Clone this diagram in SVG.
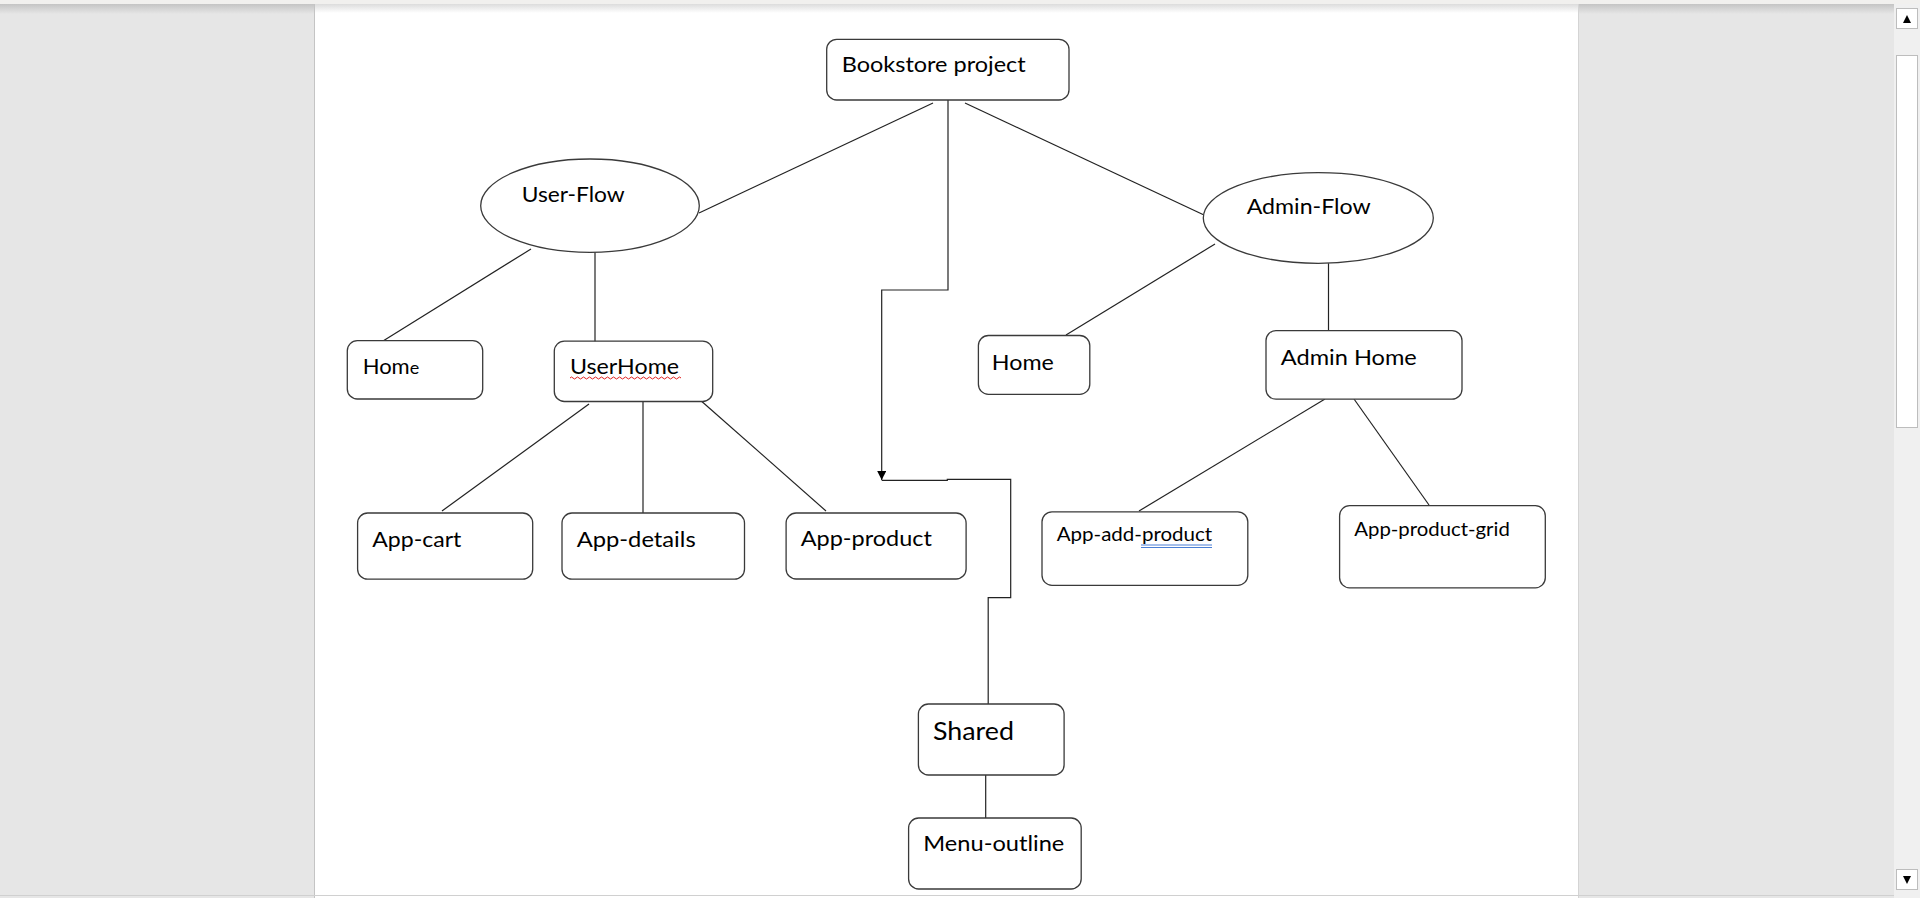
<svg xmlns="http://www.w3.org/2000/svg" width="1920" height="898" viewBox="0 0 1920 898">
<defs>
<linearGradient id="topShadeGray" x1="0" y1="0" x2="0" y2="1"><stop offset="0" stop-color="#c4c4c4"/><stop offset="1" stop-color="#e6e6e6"/></linearGradient>
<linearGradient id="topShadeWhite" x1="0" y1="0" x2="0" y2="1"><stop offset="0" stop-color="#dcdcdc"/><stop offset="1" stop-color="#ffffff"/></linearGradient>
<marker id="arrow" viewBox="0 0 10 10" refX="10" refY="5" markerWidth="9" markerHeight="9" markerUnits="userSpaceOnUse" orient="auto">
<path d="M0,0 L10,5 L0,10 Z" fill="#000"/>
</marker>
<style>
.box{fill:#fff;stroke:#3a3a3a;stroke-width:1.3}
.ell{fill:#fff;stroke:#3a3a3a;stroke-width:1.3}
.lbl{font-family:Lato,"Liberation Sans",sans-serif;font-size:22px;fill:#000}
.sm{font-size:19px}
.lg{font-size:25px}
.con{fill:none;stroke:#222;stroke-width:1.2}
</style>
</defs>
<!-- window background -->
<rect x="0" y="0" width="1920" height="898" fill="#e6e6e6"/>
<rect x="314" y="4" width="1264" height="894" fill="#fff"/>
<rect x="0" y="4" width="314" height="10" fill="url(#topShadeGray)"/>
<rect x="1578" y="4" width="316" height="10" fill="url(#topShadeGray)"/>
<rect x="315" y="4" width="1263" height="9" fill="url(#topShadeWhite)"/>
<rect x="0" y="0" width="1920" height="4" fill="#f1f0ee"/>
<line x1="314.5" y1="4" x2="314.5" y2="898" stroke="#c4c4c4" stroke-width="1"/>
<line x1="1578.5" y1="4" x2="1578.5" y2="898" stroke="#d4d4d4" stroke-width="1"/>
<line x1="0" y1="895.5" x2="1894" y2="895.5" stroke="#d0d0d0" stroke-width="1"/>
<!-- scrollbar -->
<rect x="1894" y="4" width="26" height="894" fill="#f0f0f0"/>
<rect x="1896.5" y="8.5" width="21" height="20" fill="#fff" stroke="#bdbdbd"/>
<path d="M1903,23 L1911,23 L1907,15 Z" fill="#000"/>
<rect x="1896.5" y="55.5" width="21" height="372" fill="#fff" stroke="#bdbdbd"/>
<rect x="1896.5" y="869.5" width="21" height="20" fill="#fff" stroke="#bdbdbd"/>
<path d="M1903,876 L1911,876 L1907,884 Z" fill="#000"/>

<g id="connectors">
<line class="con" x1="933" y1="103" x2="699" y2="213"/>
<line class="con" x1="965" y1="103" x2="1204" y2="215"/>
<line class="con" x1="531" y1="249" x2="383" y2="341"/>
<line class="con" x1="595" y1="252" x2="595" y2="342"/>
<line class="con" x1="1215" y1="244" x2="1066" y2="335"/>
<line class="con" x1="1328.5" y1="263" x2="1328.5" y2="331"/>
<line class="con" x1="589" y1="404" x2="442" y2="511"/>
<line class="con" x1="643" y1="402" x2="643" y2="513"/>
<line class="con" x1="699" y1="399" x2="826" y2="511"/>
<line class="con" x1="1325" y1="399" x2="1139" y2="511"/>
<line class="con" x1="1354" y1="399" x2="1429" y2="505"/>
<path class="con" d="M948,100 V290 H881.7 V480" marker-end="url(#arrow)"/>
<path class="con" d="M881.7,480.3 H947.3 V479.3 H1010.7 V597.6 H988.2 V704"/>
<line class="con" x1="985.7" y1="775" x2="985.7" y2="818"/>
</g>

<g id="bookstore">
<rect class="box" x="826.7" y="39.3" width="242.3" height="60.7" rx="10"/>
<text class="lbl" x="841.7" y="71.7" textLength="184" lengthAdjust="spacingAndGlyphs">Bookstore project</text>
</g>
<g id="user-flow">
<ellipse class="ell" cx="590" cy="205.7" rx="109.3" ry="46.7"/>
<text class="lbl" x="521.7" y="201.7" textLength="103" lengthAdjust="spacingAndGlyphs">User-Flow</text>
</g>
<g id="admin-flow">
<ellipse class="ell" cx="1318.3" cy="218" rx="115" ry="45.3"/>
<text class="lbl" x="1246.7" y="214" textLength="124" lengthAdjust="spacingAndGlyphs">Admin-Flow</text>
</g>
<g id="user-home-leaf">
<rect class="box" x="347.3" y="340.7" width="135.4" height="58.3" rx="10"/>
<text class="lbl" x="362.7" y="374">Hom<tspan font-size="18">e</tspan></text>
</g>
<g id="userhome">
<rect class="box" x="554.3" y="341.2" width="158.4" height="60.3" rx="10"/>
<text class="lbl" x="570" y="374" textLength="109" lengthAdjust="spacingAndGlyphs">UserHome</text>
<path d="M570,378 q1.5,-2 3,0 t3,0 t3,0 t3,0 t3,0 t3,0 t3,0 t3,0 t3,0 t3,0 t3,0 t3,0 t3,0 t3,0 t3,0 t3,0 t3,0 t3,0 t3,0 t3,0 t3,0 t3,0 t3,0 t3,0 t3,0 t3,0 t3,0 t3,0 t3,0 t3,0 t3,0 t3,0 t3,0 t3,0 t3,0 t3,0 t3,0" fill="none" stroke="#e02020" stroke-width="1"/>
</g>
<g id="admin-home-leaf">
<rect class="box" x="978.4" y="335.5" width="111.4" height="58.8" rx="10"/>
<text class="lbl" x="991.8" y="369.8" textLength="62" lengthAdjust="spacingAndGlyphs">Home</text>
</g>
<g id="admin-home">
<rect class="box" x="1266" y="330.6" width="196" height="68.6" rx="10"/>
<text class="lbl" x="1280.8" y="364.9" textLength="136" lengthAdjust="spacingAndGlyphs">Admin Home</text>
</g>
<g id="app-cart">
<rect class="box" x="357.6" y="513" width="175.1" height="66.2" rx="10"/>
<text class="lbl" x="372.3" y="547" textLength="89" lengthAdjust="spacingAndGlyphs">App-cart</text>
</g>
<g id="app-details">
<rect class="box" x="562" y="513" width="182.5" height="66.2" rx="10"/>
<text class="lbl" x="576.7" y="547" textLength="119" lengthAdjust="spacingAndGlyphs">App-details</text>
</g>
<g id="app-product">
<rect class="box" x="786.1" y="513" width="180" height="66" rx="10"/>
<text class="lbl" x="800.8" y="546" textLength="131" lengthAdjust="spacingAndGlyphs">App-product</text>
</g>
<g id="app-add-product">
<rect class="box" x="1042" y="511.8" width="205.8" height="73.5" rx="10"/>
<text class="lbl sm" x="1056.7" y="541.2" textLength="155.5" lengthAdjust="spacingAndGlyphs">App-add-product</text>
<line x1="1141" y1="545" x2="1212" y2="545" stroke="#4a7fd6" stroke-width="1"/>
<line x1="1141" y1="547.5" x2="1212" y2="547.5" stroke="#4a7fd6" stroke-width="1"/>
</g>
<g id="app-product-grid">
<rect class="box" x="1339.6" y="505.7" width="205.7" height="82.1" rx="10"/>
<text class="lbl sm" x="1354.3" y="535.5" textLength="155.5" lengthAdjust="spacingAndGlyphs">App-product-grid</text>
</g>
<g id="shared">
<rect class="box" x="918.4" y="704" width="145.7" height="71" rx="10"/>
<text class="lbl lg" x="933" y="739.6" textLength="81" lengthAdjust="spacingAndGlyphs">Shared</text>
</g>
<g id="menu-outline">
<rect class="box" x="908.6" y="818" width="172.6" height="71" rx="10"/>
<text class="lbl" x="923.3" y="851" textLength="141" lengthAdjust="spacingAndGlyphs">Menu-outline</text>
</g>
</svg>
